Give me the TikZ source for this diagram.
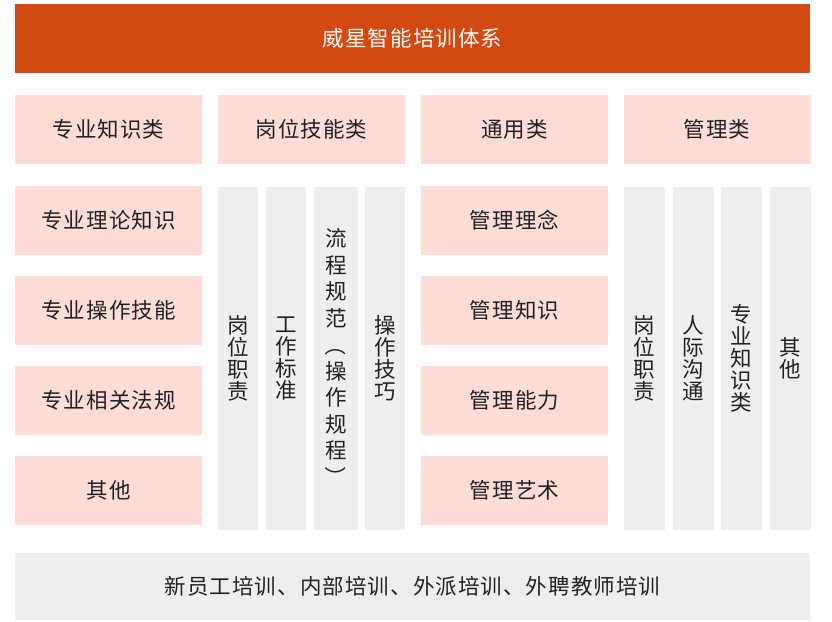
\documentclass[tikz,border=0pt]{standalone}
\usepackage{fontspec}
\setmainfont[LetterSpace=5]{Noto Sans CJK SC}
\definecolor{headorange}{RGB}{210,73,18}
\definecolor{pinkfill}{RGB}{253,220,214}
\definecolor{greyfill}{RGB}{238,238,238}
\definecolor{inktext}{RGB}{34,34,34}
\tikzset{
  headbox/.style={fill=headorange,text=white,inner sep=0pt,
    minimum width=795pt,minimum height=69pt,font=\fontsize{21.5}{24}\selectfont},
  pinkbox/.style={fill=pinkfill,text=inktext,inner sep=0pt,
    minimum width=187pt,minimum height=69pt,font=\fontsize{21.5}{24}\selectfont},
  greystrip/.style={fill=greyfill,text=inktext,inner sep=0pt,align=center,
    minimum height=343pt,font=\fontsize{21.5}{22}\selectfont},
  footbox/.style={fill=greyfill,text=inktext,inner sep=0pt,
    minimum width=795pt,minimum height=67pt,font=\fontsize{21.5}{24}\selectfont}
}
\begin{document}
\begin{tikzpicture}[x=1pt,y=-1pt]
\useasboundingbox (0,0) rectangle (832,621);

% top title
\node[headbox] (head) at (412.5,38.5) {威星智能培训体系};

% four categories
\node[pinkbox] (catA) at (108.5,129.5) {专业知识类};
\node[pinkbox] (catB) at (311.5,129.5) {岗位技能类};
\node[pinkbox] (catC) at (514.5,129.5) {通用类};
\node[pinkbox] (catD) at (717,129.5) {管理类};

% first column
\node[pinkbox] (a1) at (108.5,220.5) {专业理论知识};
\node[pinkbox] (a2) at (108.5,310.5) {专业操作技能};
\node[pinkbox] (a3) at (108.5,400.5) {专业相关法规};
\node[pinkbox] (a4) at (108.5,490) {其他};

% second column, vertical strips
\node[greystrip,minimum width=40pt] (b1) at (238,358.5) {岗\\位\\职\\责};
\node[greystrip,minimum width=40pt] (b2) at (286,358.5) {工\\作\\标\\准};
\node[greystrip,minimum width=44pt,font=\fontsize{21.5}{26.5}\selectfont] (b3) at (336,358.5)
  {流\\程\\规\\范\\\rotatebox[origin=c]{-90}{（}\\操\\作\\规\\程\\\rotatebox[origin=c]{-90}{）}};
\node[greystrip,minimum width=40pt] (b4) at (385,358.5) {操\\作\\技\\巧};

% third column
\node[pinkbox] (c1) at (514.5,220.5) {管理理念};
\node[pinkbox] (c2) at (514.5,310.5) {管理知识};
\node[pinkbox] (c3) at (514.5,400.5) {管理能力};
\node[pinkbox] (c4) at (514.5,490) {管理艺术};

% fourth column, vertical strips
\node[greystrip,minimum width=41pt] (d1) at (644.5,358.5) {岗\\位\\职\\责};
\node[greystrip,minimum width=41pt] (d2) at (693.5,358.5) {人\\际\\沟\\通};
\node[greystrip,minimum width=41pt] (d3) at (741.5,358.5) {专\\业\\知\\识\\类};
\node[greystrip,minimum width=41pt] (d4) at (790.5,358.5) {其\\他};

% bottom line
\node[footbox] (foot) at (412.5,586.5) {新员工培训、内部培训、外派培训、外聘教师培训};
\end{tikzpicture}
\end{document}
